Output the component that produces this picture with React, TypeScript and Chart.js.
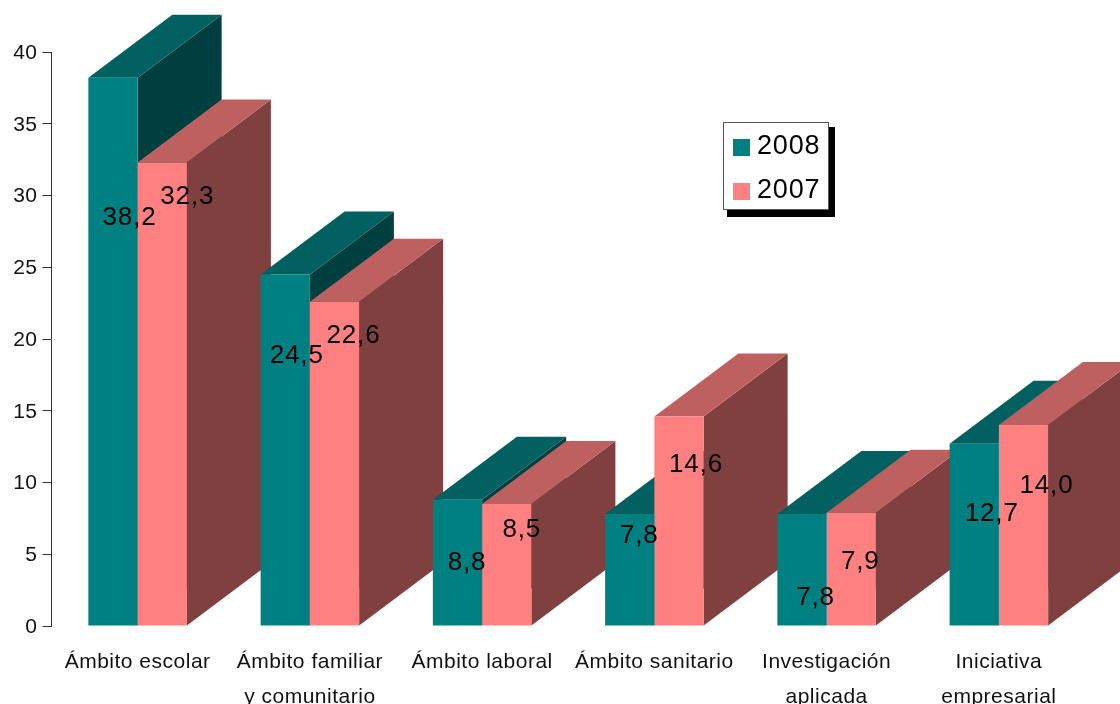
import React, { useEffect, useRef } from "react";
import { Chart, registerables } from "chart.js";

Chart.register(...registerables);

const categories = [
  "Ámbito escolar",
  ["Ámbito familiar", "y comunitario"],
  "Ámbito laboral",
  "Ámbito sanitario",
  ["Investigación", "aplicada"],
  ["Iniciativa", "empresarial"],
];
const values2008 = [38.2, 24.5, 8.8, 7.8, 7.8, 12.7];
const values2007 = [32.3, 22.6, 8.5, 14.6, 7.9, 14.0];
const yTicks = [0, 5, 10, 15, 20, 25, 30, 35, 40];

// Hand placement of the value labels, relative to each bar's top centre.
const offsets2008 = [[16.5, 140], [11.5, 81], [9.5, 63], [9.5, 22], [13.5, 84], [17.5, 70]];
const offsets2007 = [[25, 34], [19, 34], [15, 26], [17, 48], [9, 49], [23, 61]];

const DEPTH_X = 84;
const DEPTH_Y = -63;
const FONT = '"Liberation Sans", Arial, sans-serif';

const faces = [
  { front: "#008080", top: "#026060", side: "#003f3f" },
  { front: "#ff8080", top: "#bf6060", side: "#804040" },
];

function poly(ctx: CanvasRenderingContext2D, pts: number[][], fill: string) {
  ctx.fillStyle = fill;
  ctx.beginPath();
  pts.forEach(([x, y], i) => (i ? ctx.lineTo(x, y) : ctx.moveTo(x, y)));
  ctx.closePath();
  ctx.fill();
}

const spacingPlugin = {
  id: "spacing",
  beforeDraw(chart: any) {
    (chart.ctx as any).letterSpacing = "0.5px";
  },
};

const depthPlugin = {
  id: "depth",
  beforeDatasetsDraw(chart: any) {
    const ctx = chart.ctx as CanvasRenderingContext2D;
    const n = chart.data.labels.length;
    ctx.save();
    for (let i = 0; i < n; i++) {
      [0, 1].forEach((d) => {
        const b: any = chart.getDatasetMeta(d).data[i];
        const l = b.x - b.width / 2;
        const r = b.x + b.width / 2;
        const t = b.y;
        const base = b.base;
        poly(ctx, [[r, t], [r + DEPTH_X, t + DEPTH_Y], [r + DEPTH_X, base + DEPTH_Y], [r, base]], faces[d].side);
        poly(ctx, [[l, t], [l + DEPTH_X, t + DEPTH_Y], [r + DEPTH_X, t + DEPTH_Y], [r, t]], faces[d].top);
      });
    }
    ctx.restore();
  },
};

const labelPlugin = {
  id: "valueLabels",
  afterDatasetsDraw(chart: any) {
    const ctx = chart.ctx as any;
    ctx.save();
    ctx.font = `26px ${FONT}`;
    ctx.letterSpacing = "0.8px";
    ctx.fillStyle = "#000";
    ctx.textAlign = "center";
    ctx.textBaseline = "middle";
    [offsets2008, offsets2007].forEach((offs, d) => {
      chart.getDatasetMeta(d).data.forEach((b: any, i: number) => {
        const v = chart.data.datasets[d].data[i] as number;
        ctx.fillText(v.toFixed(1).replace(".", ","), b.x + offs[i][0], b.y + offs[i][1]);
      });
    });
    ctx.restore();
  },
};

const legendPlugin = {
  id: "boxLegend",
  afterDraw(chart: any) {
    const ctx = chart.ctx as any;
    ctx.save();
    ctx.fillStyle = "#000";
    ctx.fillRect(727, 127, 108, 90);
    ctx.fillStyle = "#fff";
    ctx.fillRect(723, 122, 106, 88);
    ctx.strokeStyle = "#555";
    ctx.lineWidth = 1;
    ctx.strokeRect(723.5, 122.5, 105, 87);
    ctx.font = `27px ${FONT}`;
    ctx.letterSpacing = "0.8px";
    ctx.textAlign = "left";
    ctx.textBaseline = "middle";
    chart.data.datasets.forEach((ds: any, i: number) => {
      const y = 139 + i * 44;
      ctx.fillStyle = ds.backgroundColor;
      ctx.fillRect(733, y, 17, 17);
      ctx.fillStyle = "#000";
      ctx.fillText(ds.label, 757, y + 8);
    });
    ctx.restore();
  },
};

export default function App() {
  const ref = useRef<HTMLCanvasElement>(null);
  useEffect(() => {
    const chart = new Chart(ref.current!, {
      type: "bar",
      data: {
        labels: categories as any,
        datasets: [
          { label: "2008", data: values2008, backgroundColor: faces[0].front, borderWidth: 0 },
          { label: "2007", data: values2007, backgroundColor: faces[1].front, borderWidth: 0 },
        ],
      },
      plugins: [spacingPlugin, depthPlugin, labelPlugin, legendPlugin],
      options: {
        responsive: false,
        animation: false,
        layout: { padding: { top: 52, right: 35, left: 0, bottom: 0 } },
        datasets: { bar: { categoryPercentage: 0.572, barPercentage: 1 } },
        plugins: { legend: { display: false }, tooltip: { enabled: false }, title: { display: false } },
        scales: {
          x: {
            grid: { display: false },
            border: { display: false },
            afterFit: (s: any) => { s.height = 78; },
            ticks: {
              color: "#111",
              font: { family: FONT, size: 21, lineHeight: 1.7 },
              padding: 10,
              maxRotation: 0,
              minRotation: 0,
              autoSkip: false,
            },
          },
          y: {
            min: 0,
            max: 40,
            afterFit: (s: any) => { s.width = 51.5; },
            afterBuildTicks: (s: any) => { s.ticks = yTicks.map((value) => ({ value })); },
            grid: { drawOnChartArea: false, drawTicks: true, tickLength: 9, color: "#333", lineWidth: 1 },
            border: { display: true, color: "#333", width: 1 },
            ticks: {
              color: "#111",
              font: { family: FONT, size: 21 },
              padding: 5,
              labelOffset: 1,
            },
          },
        },
      },
    } as any);
    return () => chart.destroy();
  }, []);
  return (
    <canvas
      ref={ref}
      width={1120}
      height={704}
      style={{ position: "absolute", left: 0, top: 0, display: "block" }}
    />
  );
}
